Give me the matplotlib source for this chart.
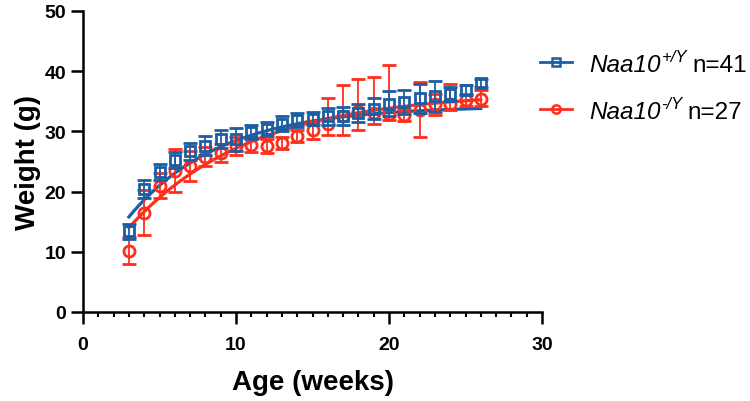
import numpy as np
import matplotlib
matplotlib.use("Agg")
from matplotlib import pyplot as plt
from matplotlib.lines import Line2D
from matplotlib.ticker import MultipleLocator

# weeks of age
weeks = [3, 4, 5, 6, 7, 8, 9, 10, 11, 12, 13, 14, 15, 16, 17, 18, 19, 20, 21, 22, 23, 24, 25, 26]

# Naa10 +/Y (n=41): mean and SD
wt_mean = [13.4, 20.5, 23.3, 25.3, 26.7, 27.6, 28.7, 28.7, 29.9, 30.4, 31.3, 31.9, 32.1, 32.5,
           32.6, 33.0, 33.8, 34.6, 34.9, 35.5, 35.8, 36.2, 36.9, 38.0]
wt_sd = [1.2, 1.5, 1.3, 1.3, 1.4, 1.6, 1.5, 1.9, 1.2, 1.1, 1.2, 1.1, 1.1, 1.4,
         1.5, 1.5, 1.7, 2.1, 2.0, 2.4, 2.6, 1.2, 0.8, 0.7]

# Naa10 -/Y (n=27): mean, lower / upper error
ko_mean = [10.2, 16.5, 21.0, 23.5, 24.2, 25.8, 26.4, 27.5, 27.8, 27.6, 28.0, 29.3, 30.3, 31.3,
           32.5, 33.4, 33.0, 32.9, 32.8, 33.6, 34.5, 34.6, 35.2, 35.3]
ko_err_lo = [2.2, 3.7, 2.1, 3.6, 2.5, 1.6, 1.5, 1.5, 1.2, 1.2, 1.0, 1.0, 1.5, 1.9,
             3.1, 3.2, 1.8, 1.0, 1.0, 4.6, 1.7, 1.0, 1.0, 1.0]
ko_err_hi = [2.2, 3.7, 2.1, 3.6, 2.5, 1.6, 1.5, 1.5, 1.2, 1.2, 1.0, 1.0, 1.5, 4.3,
             5.2, 5.3, 6.0, 8.1, 1.0, 4.6, 1.7, 3.3, 1.0, 1.5]

# one-phase association fits: plateau, span, rate (from x=3)
wt_fit = (34.2, 18.4, 0.167)
ko_fit = (36.5, 22.5, 0.126)

legend_sup = ['+/Y', '-/Y']
legend_n = ['n=41', 'n=27']

blue = '#1B5EA3'
red = '#FF2E1C'

plt.rcParams['font.family'] = ['Liberation Sans', 'DejaVu Sans']

W, H = 750, 402
fig = plt.figure(figsize=(W / 100, H / 100), dpi=100)
ax = fig.add_axes([83 / W, 1 - 313 / H, (542 - 83) / W, (313 - 12) / H])

xs = np.linspace(weeks[0], weeks[-1], 200)
for p, col in [(wt_fit, blue), (ko_fit, red)]:
    ax.plot(xs, p[0] - p[1] * np.exp(-p[2] * (xs - weeks[0])), color=col, lw=2.3, zorder=2)

ax.errorbar(weeks, ko_mean, yerr=[ko_err_lo, ko_err_hi], fmt='o', ms=8, mfc='none', mec=red,
            mew=2, ecolor=red, elinewidth=1.3, capsize=5, capthick=1.3, color=red, zorder=3)
ax.errorbar(weeks, wt_mean, yerr=wt_sd, fmt='s', ms=7.5, mfc='none', mec=blue,
            mew=2, ecolor=blue, elinewidth=1.3, capsize=5, capthick=1.3, color=blue, zorder=4)

ax.set_xlim(0, 30)
ax.set_ylim(0, 50)
ax.xaxis.set_major_locator(MultipleLocator(10))
ax.xaxis.set_minor_locator(MultipleLocator(1))
ax.yaxis.set_major_locator(MultipleLocator(10))
for s in ['top', 'right']:
    ax.spines[s].set_visible(False)
for s in ['left', 'bottom']:
    ax.spines[s].set_linewidth(1.8)
ax.tick_params(which='major', length=8.5, width=1.8, labelsize=14)
ax.tick_params(axis='x', which='major', pad=9)
ax.tick_params(axis='y', which='major', pad=3.5)
ax.tick_params(which='minor', length=3.8, width=1.5)
for lab in ax.get_xticklabels() + ax.get_yticklabels():
    lab.set_fontweight('bold')
ax.set_xlabel('Age (weeks)', fontsize=20, fontweight='bold', labelpad=11)
ax.set_ylabel('Weight (g)', fontsize=20, fontweight='bold', labelpad=3)

# legend drawn by hand: italic gene name, superscript genotype, plain n
renderer = fig.canvas.get_renderer()
rows = [(blue, 's', 71.5, 62.7), (red, 'o', 119.3, 110)]
for (col, mk, base, yc), sup, n in zip(rows, legend_sup, legend_n):
    yl = 1 - yc / H
    fig.add_artist(Line2D([540 / W, 572 / W], [yl, yl], color=col, lw=2))
    fig.add_artist(Line2D([556 / W], [yl], marker=mk, ms=6, mfc='none', mec=col, mew=1.8, color=col))
    t1 = fig.text(589 / W, 1 - base / H, 'Naa10', fontsize=17.5, style='italic', va='baseline')
    bb = t1.get_window_extent(renderer)
    t2 = fig.text((bb.x1 + 1) / W, 1 - (base - 10) / H, sup, fontsize=12, style='italic', va='baseline')
    bb = t2.get_window_extent(renderer)
    fig.text((bb.x1 + 5) / W, 1 - base / H, n, fontsize=17.5, va='baseline')

fig.savefig('out.png', dpi=100)
